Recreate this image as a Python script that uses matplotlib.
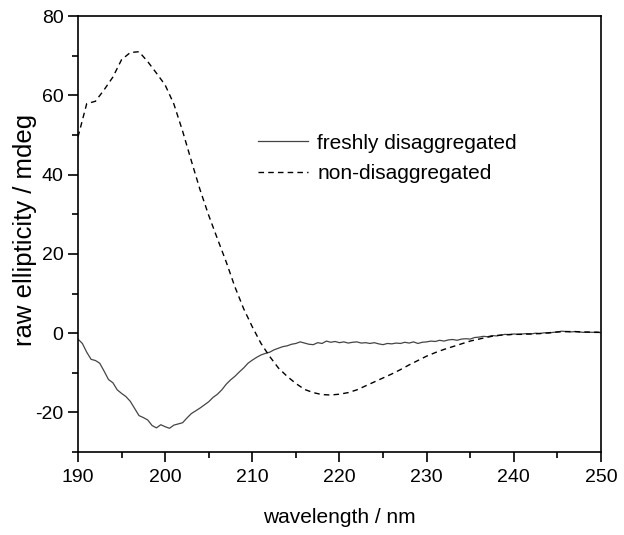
import numpy as np
import matplotlib.pyplot as plt
from matplotlib.ticker import MultipleLocator

plt.rcParams["font.family"] = ["Liberation Sans", "DejaVu Sans"]
plt.rcParams["axes.unicode_minus"] = False

# non-disaggregated, 1 nm steps 190..250
wl_non = np.arange(190, 251, 1)
non_disagg = [49.5, 57.9, 58.5, 61.4, 64.6, 69.0, 70.8, 71.0, 68.5, 65.6,
              62.6, 57.8, 51.0, 43.5, 36.2, 29.7, 23.8, 18.0, 11.7, 6.2,
              1.6, -2.6, -5.9, -8.8, -10.9, -12.7, -14.2, -15.0, -15.5, -15.6,
              -15.4, -15.0, -14.3, -13.3, -12.3, -11.3, -10.3, -9.2, -8.0, -6.9,
              -5.8, -4.9, -4.1, -3.4, -2.7, -2.0, -1.5, -1.0, -0.6, -0.4,
              -0.3, -0.3, -0.2, -0.1, 0.1, 0.3, 0.4, 0.4, 0.3, 0.2,
              0.2]

# freshly disaggregated, 0.5 nm steps 190..250
wl_fresh = np.arange(190, 250.01, 0.5)
fresh = [-1.5, -2.6, -4.8, -6.6, -6.9, -7.6, -9.6, -11.7, -12.5, -14.3,
         -15.2, -16.0, -17.2, -19.0, -20.8, -21.3, -21.9, -23.3, -23.9, -23.1,
         -23.6, -24.0, -23.2, -22.9, -22.6, -21.4, -20.3, -19.6, -18.9, -18.1,
         -17.3, -16.2, -15.4, -14.3, -12.9, -11.8, -10.9, -9.8, -8.8, -7.6,
         -6.8, -6.1, -5.5, -5.1, -4.8, -4.2, -3.8, -3.4, -3.2, -2.8,
         -2.6, -2.2, -2.5, -2.8, -2.9, -2.4, -2.6, -2.0, -2.3, -2.1,
         -2.4, -2.2, -2.5, -2.3, -2.2, -2.5, -2.4, -2.6, -2.4, -2.7,
         -2.9, -2.6, -2.7, -2.5, -2.6, -2.3, -2.5, -2.2, -2.6, -2.3,
         -2.2, -2.0, -2.1, -1.8, -2.0, -1.7, -1.6, -1.8, -1.5, -1.4,
         -1.5, -1.1, -1.0, -0.8, -0.9, -0.6, -0.7, -0.5, -0.3, -0.4,
         -0.2, -0.3, -0.2, -0.1, -0.2, 0.0, -0.1, 0.1, 0.0, 0.2,
         0.3, 0.5, 0.4, 0.3, 0.4, 0.3, 0.2, 0.3, 0.2, 0.3,
         0.1]

fig = plt.figure(figsize=(6.24, 5.35), dpi=100)
ax = fig.add_axes([0.125, 0.155, 0.838, 0.815])

ax.plot(wl_fresh, fresh, color="#444444", lw=0.9, label="freshly disaggregated")
ax.plot(wl_non, non_disagg, color="black", lw=1.0, linestyle=(0, (4, 3)),
        label="non-disaggregated")

ax.set_xlim(190, 250)
ax.set_ylim(-30, 80)
ax.xaxis.set_major_locator(MultipleLocator(10))
ax.xaxis.set_minor_locator(MultipleLocator(5))
ax.yaxis.set_major_locator(MultipleLocator(20))
ax.yaxis.set_minor_locator(MultipleLocator(10))
ax.tick_params(which="major", direction="out", length=7, width=1.2, labelsize=14)
ax.tick_params(axis="x", which="major", pad=5)
ax.tick_params(which="minor", direction="out", length=4, width=1.2)
for s in ax.spines.values():
    s.set_linewidth(1.2)

ax.set_xlabel("wavelength / nm", fontsize=15, labelpad=16)
ax.set_ylabel("raw ellipticity / mdeg", fontsize=18.5)
ax.yaxis.set_label_coords(-0.078, 0.51)

ax.legend(loc="upper left", bbox_to_anchor=(0.344, 0.73), frameon=False,
          fontsize=15, handlelength=2.4, handletextpad=0.45, labelspacing=0.55,
          borderpad=0, borderaxespad=0)

fig.savefig("out.png", dpi=100)
